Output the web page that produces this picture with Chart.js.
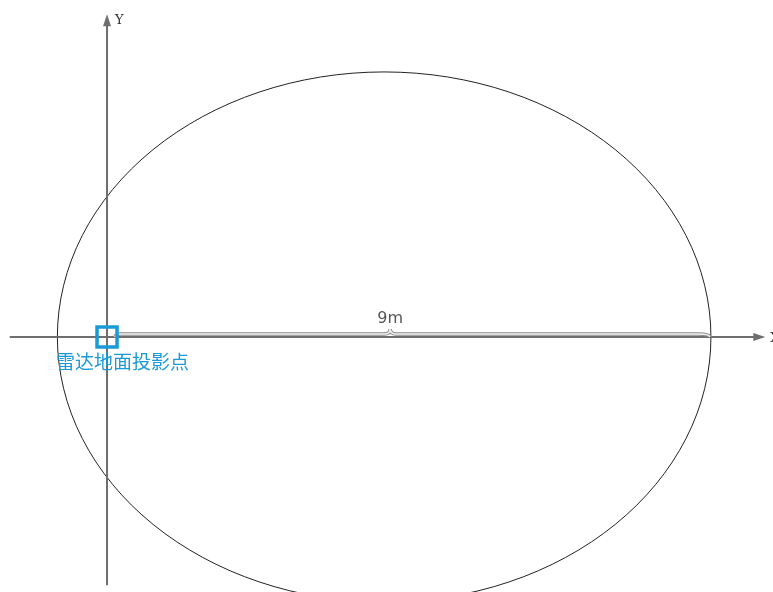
<!DOCTYPE html>
<html>
<head>
<meta charset="utf-8">
<script src="https://cdn.jsdelivr.net/npm/chart.js@4/dist/chart.umd.min.js"></script>
<style>
  html, body { margin: 0; padding: 0; background: #fff; }
  #wrap { width: 773px; height: 592px; }
</style>
</head>
<body>
<div id="wrap"><canvas id="chart"></canvas></div>
<script>
// unidades em metros, radar na origem
const xRange = [-1.595, 9.925];
const yRange = [-3.80, 5.022];
const eixoX = [-1.45, 9.81];   // inicio e ponta da seta
const eixoY = [-3.70, 4.81];
const radar = [0, 0];
const elipseCentro = [4.13, 0];
const elipseRaios = [4.87, 3.95];
const chaveInicio = 0.12;
const chaveFim = 8.98;
const chavePico = 4.22;
const distanciaTexto = '9m';
const radarTexto = '雷达地面投影点';
const eixoNomes = ['X', 'Y'];

const cinza = '#6e6e6e';
const azul = '#1b9ad8';

const desenhoPlugin = {
  id: 'desenho',
  afterDatasetsDraw(chart) {
    const ctx = chart.ctx;
    const sx = chart.scales.x, sy = chart.scales.y;
    const px = v => sx.getPixelForValue(v);
    const py = v => sy.getPixelForValue(v);

    ctx.save();

    // elipse
    const cx = px(elipseCentro[0]), cy = py(elipseCentro[1]);
    const rx = px(elipseCentro[0] + elipseRaios[0]) - cx;
    const ry = cy - py(elipseCentro[1] + elipseRaios[1]);
    ctx.beginPath();
    ctx.ellipse(cx, cy, rx, ry, 0, 0, Math.PI * 2);
    ctx.strokeStyle = '#222';
    ctx.lineWidth = 1;
    ctx.stroke();

    // eixos
    const ox = px(radar[0]), oy = py(radar[1]);
    ctx.strokeStyle = cinza;
    ctx.fillStyle = cinza;
    ctx.lineWidth = 2;
    ctx.beginPath();
    ctx.moveTo(px(eixoX[0]), oy);
    ctx.lineTo(px(eixoX[1]) - 8, oy);
    ctx.moveTo(ox, py(eixoY[0]));
    ctx.lineTo(ox, py(eixoY[1]) + 8);
    ctx.stroke();
    // setas
    const tx = px(eixoX[1]);
    ctx.beginPath();
    ctx.moveTo(tx, oy);
    ctx.lineTo(tx - 12, oy - 4);
    ctx.lineTo(tx - 12, oy + 4);
    ctx.closePath();
    ctx.fill();
    const ty = py(eixoY[1]);
    ctx.beginPath();
    ctx.moveTo(ox, ty);
    ctx.lineTo(ox - 4, ty + 12);
    ctx.lineTo(ox + 4, ty + 12);
    ctx.closePath();
    ctx.fill();

    ctx.font = '13px "DejaVu Serif", serif';
    ctx.fillStyle = '#333';
    ctx.textBaseline = 'middle';
    ctx.fillText(eixoNomes[0], tx + 5, oy + 2);
    ctx.fillText(eixoNomes[1], ox + 8, ty + 6);

    // chave horizontal
    const x1 = px(chaveInicio), x2 = px(chaveFim);
    const xm = px(chavePico);
    const yl = oy - 3;
    const chave = () => {
      ctx.beginPath();
      ctx.moveTo(x1, oy);
      ctx.quadraticCurveTo(x1, yl, x1 + 6, yl);
      ctx.lineTo(xm - 6, yl);
      ctx.quadraticCurveTo(xm, yl, xm, yl - 5);
      ctx.quadraticCurveTo(xm, yl, xm + 6, yl);
      ctx.lineTo(x2 - 12, yl);
      ctx.quadraticCurveTo(x2, yl, x2, oy);
      ctx.stroke();
    };
    ctx.strokeStyle = '#8a8a8a';
    ctx.lineWidth = 3.5;
    chave();
    ctx.strokeStyle = '#f4f4f4';
    ctx.lineWidth = 1.5;
    chave();

    ctx.font = '16px "DejaVu Sans", sans-serif';
    ctx.fillStyle = '#555';
    ctx.textAlign = 'center';
    ctx.textBaseline = 'alphabetic';
    ctx.fillText(distanciaTexto, xm, yl - 11);

    // quadrado do radar
    ctx.strokeStyle = azul;
    ctx.lineWidth = 3.5;
    ctx.strokeRect(ox - 10, oy - 10, 20, 20);

    ctx.font = '19px "Noto Sans CJK SC", sans-serif';
    ctx.fillStyle = azul;
    ctx.textAlign = 'left';
    ctx.textBaseline = 'middle';
    ctx.fillText(radarTexto, ox - 51, oy + 25);

    ctx.restore();
  }
};

new Chart(document.getElementById('chart'), {
  type: 'scatter',
  data: { datasets: [{ data: [{ x: radar[0], y: radar[1] }], pointRadius: 0 }] },
  options: {
    responsive: true,
    maintainAspectRatio: false,
    animation: false,
    layout: { padding: 0 },
    plugins: { legend: { display: false }, tooltip: { enabled: false } },
    scales: {
      x: { type: 'linear', min: xRange[0], max: xRange[1], display: false },
      y: { type: 'linear', min: yRange[0], max: yRange[1], display: false }
    }
  },
  plugins: [desenhoPlugin]
});
</script>
</body>
</html>
